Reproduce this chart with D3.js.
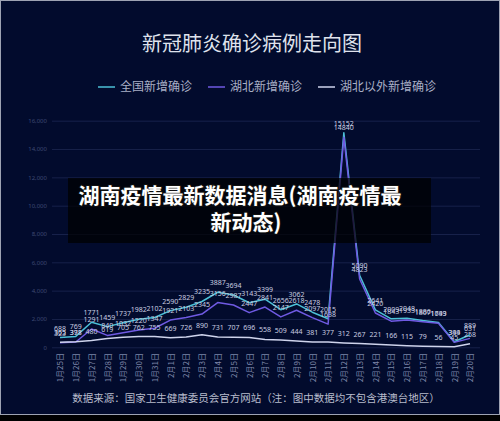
<!DOCTYPE html>
<head>
  <meta charset="utf-8">
  <script src="https://d3js.org/d3.v7.min.js"></script>
  <style>
    body { margin:0; background:#000; }
    text { font-family: "Noto Sans CJK SC", "Noto Sans", sans-serif; }
    .grid .tick line { stroke:#17214a; }
    .grid .tick text { fill:#3f4a72; font-size:6px; font-family:"Noto Sans", sans-serif; }
    .xax .tick text { fill:#7d86a8; font-size:8px; }
  </style>
</head>

<body>
<script>
  var width = 500, height = 421;

  // data: 1月25日 .. 2月20日
  var dates = ["1月25日","1月26日","1月27日","1月28日","1月29日","1月30日","1月31日",
    "2月1日","2月2日","2月3日","2月4日","2月5日","2月6日","2月7日","2月8日","2月9日","2月10日",
    "2月11日","2月12日","2月13日","2月14日","2月15日","2月16日","2月17日","2月18日","2月19日","2月20日"];
  var national = [688,769,1771,1459,1737,1982,2102,2590,2829,3235,3887,3694,3143,3399,2656,3062,2478,
    2015,15152,5090,2641,2009,2048,1886,1749,394,889];
  var hubei = [323,371,1291,840,1032,1220,1347,1921,2103,2345,3156,2987,2447,2841,2147,2618,2097,
    1638,14840,4823,2420,1843,1933,1807,1693,349,631];
  var outside = [365,398,480,619,705,762,755,669,726,890,731,707,696,558,509,444,381,
    377,312,267,221,166,115,79,56,45,258];
  var yTicks = [0,2000,4000,6000,8000,10000,12000,14000,16000];

  var series = [
    {name:"全国新增确诊", color:"#4cc0d6", values:national},
    {name:"湖北新增确诊", color:"#6f5ae2", values:hubei},
    {name:"湖北以外新增确诊", color:"#cfd4ec", values:outside}
  ];

  var svg = d3.select("body").append("svg")
    .attr("width", width)
    .attr("height", height);

  svg.append("rect").attr("width", width).attr("height", height).attr("fill", "#000");
  svg.append("rect")
    .attr("x", 0.5).attr("y", 0.5)
    .attr("width", width - 1).attr("height", 414)
    .attr("fill", "#020b2d")
    .attr("stroke", "#9ea3b3");

  var x = d3.scalePoint().domain(dates).range([60, 470]);
  var y = d3.scaleLinear().domain([0, 16000]).range([347.3, 120.7]);

  // title
  svg.append("text")
    .attr("x", 252).attr("y", 51)
    .attr("text-anchor", "middle")
    .attr("fill", "#dfe2ec")
    .style("font-size", "20px")
    .text("新冠肺炎确诊病例走向图");

  // legend
  var legX = [98, 208, 318];
  var leg = svg.selectAll(".leg").data(series).enter().append("g")
    .attr("transform", function(d, i) { return "translate(" + legX[i] + ",87)"; });
  leg.append("line").attr("x1", 0).attr("x2", 17)
    .attr("stroke", function(d) { return d.color; }).attr("stroke-width", 1.5);
  leg.append("text").attr("x", 22).attr("dy", "0.36em")
    .attr("fill", "#a9afc6").style("font-size", "12px")
    .text(function(d) { return d.name; });

  // y grid
  svg.append("g")
    .attr("class", "grid")
    .attr("transform", "translate(52,0)")
    .call(d3.axisLeft(y).tickValues(yTicks).tickSize(-428).tickPadding(5))
    .call(function(g) { g.select(".domain").remove(); });

  // x axis
  svg.append("g")
    .attr("class", "xax")
    .attr("transform", "translate(0,347)")
    .call(d3.axisBottom(x).tickSize(0))
    .call(function(g) { g.select(".domain").remove(); })
    .selectAll("text")
    .attr("text-anchor", "end")
    .attr("transform", "rotate(-90)")
    .attr("x", -6).attr("y", 0).attr("dy", "0.35em");

  var line = d3.line()
    .x(function(d, i) { return x(dates[i]); })
    .y(function(d) { return y(d); });

  // lines
  series.forEach(function(s) {
    svg.append("path")
      .attr("d", line(s.values))
      .attr("fill", "none")
      .attr("stroke", s.color)
      .attr("stroke-width", 1.5)
      .attr("stroke-linejoin", "round");
  });

  // value labels
  series.forEach(function(s) {
    svg.append("g").selectAll("text")
      .data(s.values).enter().append("text")
      .attr("x", function(d, i) { return x(dates[i]); })
      .attr("y", function(d) { return y(d) - 7; })
      .attr("text-anchor", "middle")
      .attr("fill", "#c9cde0")
      .style("font-size", "7px")
      .style("font-family", "'Noto Sans', sans-serif")
      .text(function(d) { return d; });
  });

  // source
  svg.append("text")
    .attr("x", 256).attr("y", 402)
    .attr("text-anchor", "middle")
    .attr("fill", "#b8bccc")
    .style("font-size", "10.5px")
    .text("数据来源：国家卫生健康委员会官方网站（注：图中数据均不包含港澳台地区）");

  // overlay caption
  svg.append("rect")
    .attr("x", 68).attr("y", 178)
    .attr("width", 363).attr("height", 65)
    .attr("fill", "#000")
    .attr("opacity", 0.72);
  var cap = svg.append("text")
    .attr("text-anchor", "middle")
    .attr("fill", "#fff")
    .attr("stroke", "#111")
    .attr("stroke-width", 2)
    .attr("paint-order", "stroke")
    .style("font-size", "21px")
    .style("font-weight", "700");
  cap.append("tspan").attr("x", 240).attr("y", 203).text("湖南疫情最新数据消息(湖南疫情最");
  cap.append("tspan").attr("x", 246).attr("y", 230).text("新动态)");
</script>
</body>
